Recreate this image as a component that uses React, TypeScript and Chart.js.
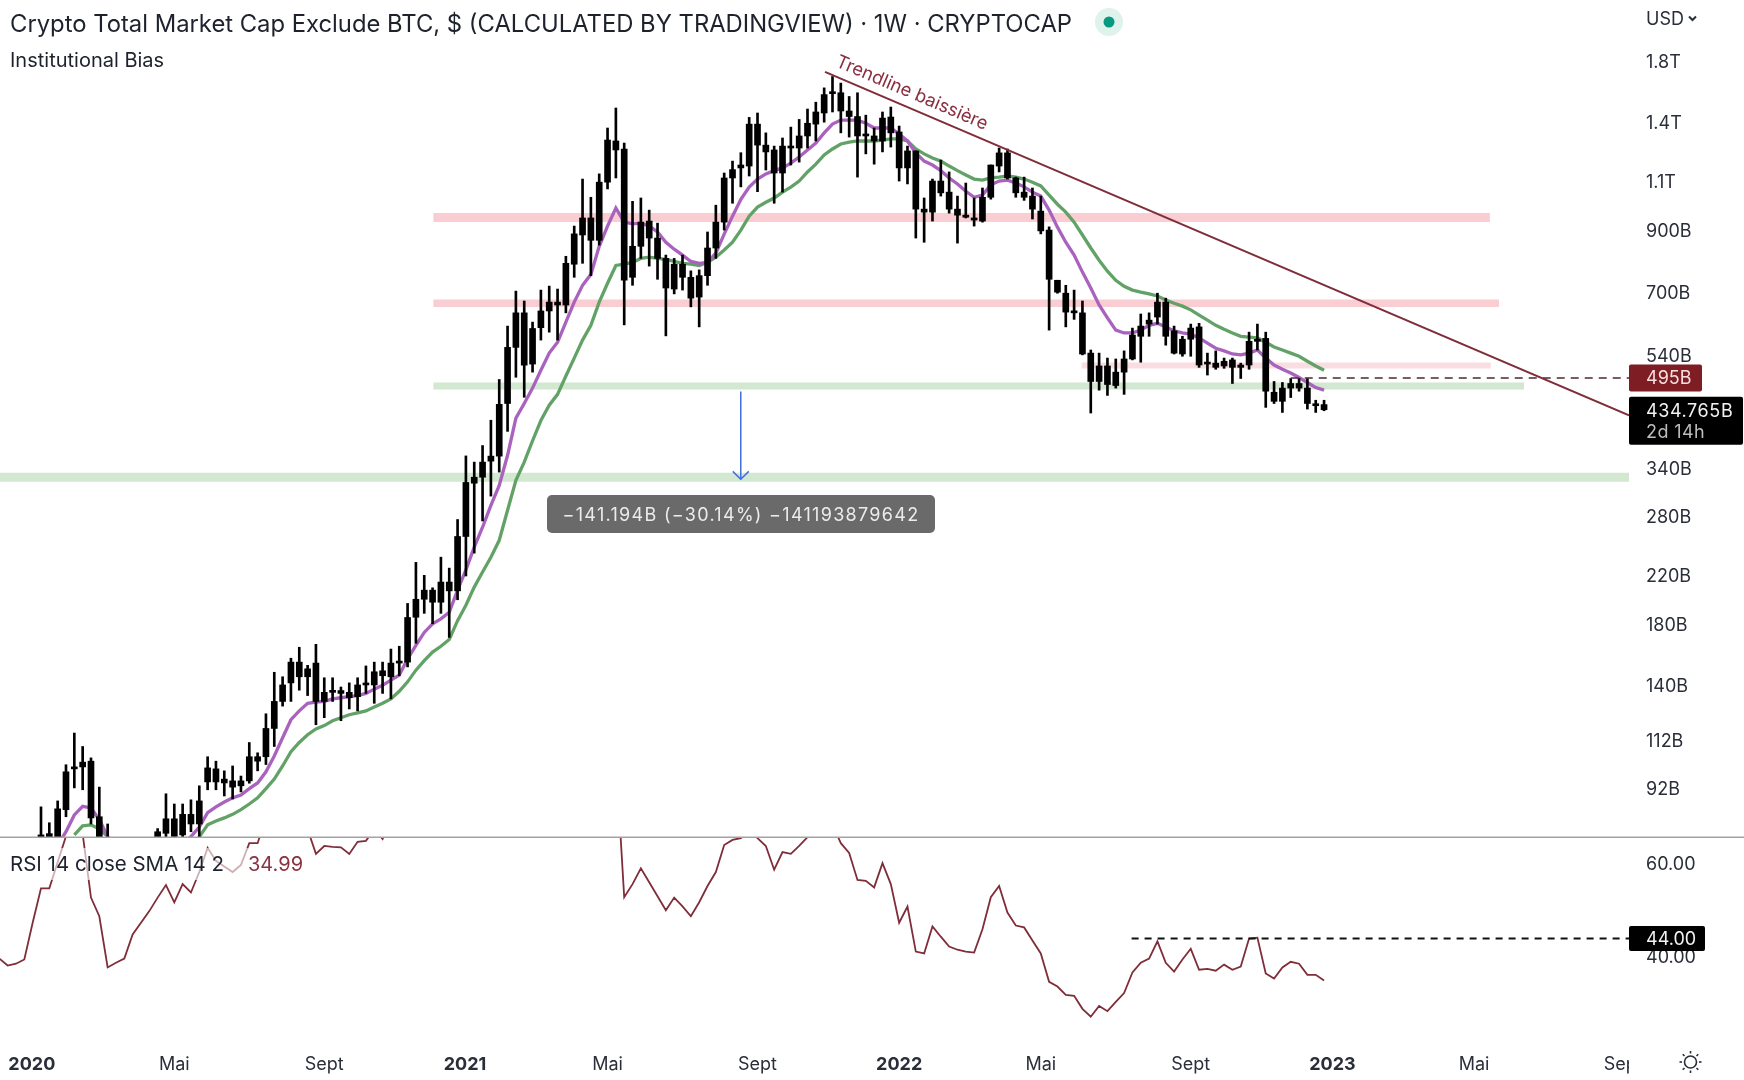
import { useEffect, useRef } from "react";
import { Chart, registerables } from "chart.js";

Chart.register(...registerables);

const FONT = "Inter, 'Noto Sans', sans-serif";
const TEXT = "#2a2e39";
const MAROON = "#7f2d38";

// x axis is counted in weeks, week 0 sits at the left edge of the picture
const weekTicks = [3.9, 21, 39, 55.9, 73, 91, 108, 125, 143, 160, 177, 194.9];
const weekLabels = ["2020", "Mai", "Sept", "2021", "Mai", "Sept", "2022", "Mai", "Sept", "2023", "Mai", "Sept"];
const yearLabels = ["2020", "2021", "2022", "2023"];

// price axis, billions
const priceTicks = [1800, 1400, 1100, 900, 700, 540, 340, 280, 220, 180, 140, 112, 92];
const priceLabels = ["1.8T", "1.4T", "1.1T", "900B", "700B", "540B", "340B", "280B", "220B", "180B", "140B", "112B", "92B"];
const rsiTicks = [60, 40];
const rsiLabels = ["60.00", "40.00"];

// weekly candles, all drawn black in the original. first candle is week 5
const firstCandleWeek = 5;
const wickHigh = [
  85.8, 80.4, 87.9, 101.9, 116, 109.8, 104.8, 93, 80, 74,
  68, 62, 66, 72, 78.5, 90.5, 86.8, 86.8, 88.3, 93.5,
  105.3, 103.4, 99.4, 101.4, 97.3, 111.6, 107, 125.5, 148.7, 146,
  157.5, 164.7, 153, 166.7, 145.4, 145.4, 140, 142.4, 145.4, 152.6,
  155, 155, 163.5, 165.4, 197, 233, 221, 210, 238, 227.6,
  277.6, 360, 351, 375.6, 416.5, 492, 612, 706, 678, 622,
  709, 720.6, 712, 814, 921, 1116, 1036, 1140, 1375, 1492,
  1293, 1019, 1033, 983, 932, 818, 807, 818, 767, 770,
  899, 1003, 1144, 1201, 1243, 1436, 1462, 1348, 1277, 1320,
  1380, 1424, 1486, 1528, 1620, 1697, 1652, 1564, 1588, 1449,
  1375, 1468, 1498, 1386, 1277, 1252, 1033, 1116, 1206, 1149,
  1041, 1098, 1033, 1076, 1182, 1267, 1262, 1125, 1125, 1076,
  1041, 918, 738, 723, 709, 678, 555, 548, 537, 535,
  553, 607, 643, 646, 700, 686, 612, 587, 617, 619,
  548, 553, 537, 537, 526, 597, 617, 597, 488, 486,
  494, 494, 494, 452, 452,
];
const bodyHigh = [
  76.5, 76.9, 85.1, 99, 101, 103, 103.4, 82.4, 75, 70,
  62, 55, 62, 68, 77.5, 81.7, 81.7, 83.2, 83.2, 87.9,
  100.6, 100.2, 96.1, 95.4, 95.4, 105.3, 105.3, 118.2, 132, 141.2,
  155, 155, 150.8, 154.4, 137, 138, 138, 137, 141.2, 142,
  149, 149.6, 154.4, 155.6, 186, 200.4, 208, 208, 215, 215,
  259, 323, 330, 351, 359.7, 444.5, 561, 646, 646, 606,
  651, 675, 675, 791, 892, 952, 952, 1102, 1309, 1304,
  1262, 848, 936, 940, 877, 807, 788, 788, 747, 752,
  842, 936, 1121, 1160, 1182, 1397, 1397, 1282, 1257, 1277,
  1277, 1331, 1402, 1468, 1576, 1594, 1588, 1474, 1441, 1336,
  1331, 1432, 1438, 1353, 1252, 1252, 987, 1107, 1107, 1058,
  987, 963, 952, 1036, 1182, 1242, 1242, 1121, 1058, 1041,
  979, 906, 738, 700, 651, 646, 548, 520, 520, 507,
  535, 590, 612, 627, 675, 675, 600, 580, 607, 610,
  526, 526, 530, 533, 522, 575, 580, 582, 467, 475,
  484, 484, 475, 444, 444,
];
const bodyLow = [
  72, 75.6, 73.4, 84.8, 100.2, 101, 82, 75, 69, 64,
  52, 50, 55, 60, 73.4, 77, 76, 76.5, 80, 80,
  95, 95, 94.6, 93, 93.5, 95.4, 103.4, 105.3, 118.2, 132,
  142.4, 146, 146, 132, 132, 137, 136.4, 134, 134.6, 141.2,
  141.2, 146.6, 146, 154.4, 155, 186.2, 200.4, 198, 198, 207.4,
  207.4, 259, 322, 330, 352.4, 359.7, 446, 561, 521.7, 524,
  608, 651, 667, 667, 788, 888, 869, 869, 1102, 1257,
  738, 747, 848, 877, 807, 715, 712, 747, 686, 689,
  752, 842, 936, 1121, 1168, 1177, 1282, 1247, 1144, 1144,
  1267, 1267, 1331, 1397, 1462, 1582, 1474, 1441, 1331, 1331,
  1304, 1304, 1348, 1168, 1168, 987, 975, 975, 1055, 987,
  963, 955, 944, 940, 1036, 1177, 1121, 1055, 1036, 987,
  903, 741, 703, 648, 646, 546, 488, 488, 482, 480,
  507, 535, 587, 617, 635, 587, 548, 546, 580, 522,
  524, 517, 520, 517, 517, 522, 575, 469, 450, 450,
  475, 475, 446, 442, 434.8,
];
const wickLow = [
  69, 73.4, 71.9, 82.4, 92.7, 92, 80, 72, 67.6, 60,
  48, 46, 52, 58, 72, 74.3, 74.3, 75, 77.5, 75.9,
  92, 92, 89.7, 88.6, 91.2, 94.5, 99.4, 102, 109.8, 129.5,
  132, 138.2, 135.2, 120, 123.5, 132, 122, 128, 127, 136.4,
  131, 136.4, 133.4, 146.6, 152, 167.4, 189.2, 181.3, 189.2, 171.5,
  200, 220.4, 242, 276, 305.5, 337, 398, 496.5, 457.5, 507,
  578, 597, 578, 646, 747, 791, 752, 852, 1072, 1121,
  615, 723, 807, 782, 741, 588, 698, 709, 662, 610,
  723, 807, 906, 1011, 1081, 1130, 1060, 1158, 1011, 1058,
  1182, 1196, 1267, 1304, 1408, 1468, 1348, 1325, 1125, 1237,
  1186, 1247, 1272, 1107, 1094, 877, 862, 940, 1041, 971,
  859, 952, 921, 936, 1028, 1149, 1116, 1036, 1023, 948,
  892, 602, 700, 610, 629, 544, 429, 471, 461, 475,
  463, 533, 528, 587, 617, 566, 546, 541, 541, 517,
  501, 513, 515, 484, 494, 513, 555, 439, 446, 430,
  457, 469, 436, 430, 433,
];

// moving averages, first point is the named week
const firstFastWeek = 7;
const fastAverage = [
  73.4, 77.5, 83, 86, 85.4, 81.4, 76, 72, 63.5, 58.4,
  58.4, 61, 65, 67.6, 70.5, 73.4, 76, 79, 83.8, 85.8,
  87.5, 89, 90, 92.4, 94.6, 99, 105.6, 113.8, 122.5, 127,
  131, 131.6, 132, 133.4, 134, 134.6, 135.2, 136.4, 138.8, 141,
  144, 147, 157, 166, 175, 181.3, 185, 190, 208, 226,
  248, 269, 294, 319, 361, 420, 446, 475, 511, 548,
  573, 622, 675, 723, 756, 848, 921, 991, 936, 929,
  932, 921, 899, 862, 838, 818, 797, 791, 794, 825,
  891, 959, 1027, 1080, 1116, 1140, 1155, 1168, 1191, 1221,
  1257, 1293, 1348, 1397, 1420, 1420, 1420, 1402, 1375, 1375,
  1375, 1342, 1304, 1242, 1201, 1182, 1155, 1121, 1094, 1062,
  1036, 1045, 1090, 1107, 1111, 1098, 1081, 1058, 1041, 983,
  917, 862, 818, 763, 715, 667, 633, 602, 595, 595,
  602, 614, 619, 610, 600, 595, 592, 583, 571, 559,
  553, 546, 544, 548, 555, 537, 522, 513, 505, 496,
  486, 476, 471,
];
const firstSlowWeek = 9;
const slowAverage = [
  76.5, 79.4, 79.7, 78.4, 76, 72, 67.6, 63.5, 61, 59.7,
  59.7, 61, 63.5, 67.6, 72, 75.9, 79.7, 81, 82, 83.2,
  84.8, 86.8, 89, 92.4, 96.1, 101.4, 107.5, 111.6, 115.2, 118,
  119.6, 122, 123.5, 125, 126, 127, 129, 131, 133.4, 137.6,
  143, 150, 156, 161.5, 165.4, 170, 183.6, 195.6, 210.6, 224,
  238, 255, 288.4, 326, 351, 383, 416, 443, 463, 499,
  537, 578, 614, 675, 729, 784, 788, 794, 807, 811,
  807, 804, 797, 791, 788, 784, 794, 811, 835, 862,
  906, 959, 995, 1015, 1033, 1058, 1080, 1107, 1149, 1186,
  1232, 1262, 1288, 1298, 1304, 1304, 1304, 1309, 1315, 1315,
  1304, 1262, 1237, 1216, 1201, 1177, 1155, 1135, 1116, 1111,
  1121, 1125, 1130, 1125, 1116, 1102, 1085, 1045, 1007, 975,
  936, 888, 842, 801, 766, 738, 720, 709, 703, 698,
  692, 681, 672, 664, 654, 640, 627, 614, 604, 595,
  587, 585, 583, 573, 562, 555, 548, 541, 530, 520,
  511,
];

// RSI per week from week 0; stretches above the pane top are estimates
const rsiValues = [
  39.7, 38.2, 38.6, 39.5, 47.4, 54.8, 54.8, 60.4, 66, 72,
  66.5, 52.8, 48.8, 37.8, 38.8, 39.7, 44.9, 47.4, 49.9, 52.8,
  55.5, 51.8, 55.7, 53.9, 58.3, 63.5, 60.7, 59.5, 58.3, 59.8,
  64.5, 64.5, 70, 72, 74, 72, 70, 67.5, 62.2, 63.9,
  63.7, 63.6, 62.2, 64.8, 65, 67.5, 65.4, 70, 72, 74,
  76, 78, 80, 82, 82, 80, 84, 86, 85, 84,
  83, 85, 86, 85, 82, 80, 78, 78, 76, 74,
  76, 78, 80, 82, 83, 52.9, 55.7, 59.1, 56.1, 53.1,
  50.1, 52.8, 50.9, 48.8, 51.8, 55.3, 58.3, 64.1, 65.2, 65.6,
  67, 65.6, 63.9, 58.8, 62.6, 62.2, 63.9, 65.8, 68, 69,
  68.5, 64.5, 62.4, 56.6, 56.4, 55, 60.2, 55.7, 47.4, 50.9,
  41.2, 40.8, 46.6, 44.4, 42.3, 41.6, 41.2, 41, 46, 52.9,
  55.3, 49.6, 46.8, 46.4, 43.6, 40.8, 34.7, 33.7, 31.9, 31.7,
  28.9, 27.2, 29.5, 28.4, 30.4, 32.3, 36.7, 38.8, 39.7, 43.4,
  38.8, 36.9, 39.5, 41.8, 37.3, 37.5, 37.1, 38.4, 37.3, 38,
  44, 44.2, 36.5, 35.4, 37.8, 39, 38.6, 36.2, 36.2, 34.99,
];

// drawn levels: [from week, to week, price in billions]
const WEEK_MIN = 0.08;
const WEEK_MAX = 195.6;
const resistanceHigh = [52.1, 178.9, 954];
const resistanceMid = [52.1, 180, 672];
const resistanceLow = [129.9, 179, 521];
const supportHigh = [52.1, 183, 479];
const supportLow = [WEEK_MIN, WEEK_MAX, 330];
const trendWeeks = [99.1, WEEK_MAX];
const trendValues = [1730, 425];
const alertWeek = 155;
const alertValue = 495;
const rsiAlertWeek = 135.9;
const rsiAlertValue = 44;
const lastPrice = 434.765;
const arrowWeek = 88.99;
const arrowFrom = 468.4;
const arrowTo = 327.2;
const arrowHeadValue = 338;
const arrowHeadWeeks = 0.96;

const week = (first: number, i: number) => first + i;

const band = (level: number[], color: string, width: number) => ({
  type: "line" as const,
  data: [
    { x: level[0], y: level[2] },
    { x: level[1], y: level[2] },
  ],
  borderColor: color,
  borderWidth: width,
  borderCapStyle: "butt" as const,
  pointRadius: 0,
  yAxisID: "y",
  order: 10,
});

const roundBox = (c: CanvasRenderingContext2D, x: number, y: number, w: number, h: number, r: number, fill: string) => {
  c.fillStyle = fill;
  c.beginPath();
  c.roundRect(x, y, w, h, r);
  c.fill();
};

const put = (c: CanvasRenderingContext2D, text: string, x: number, y: number, font: string, color: string, align: CanvasTextAlign = "left", spacing = "0px") => {
  c.font = font + " " + FONT;
  c.fillStyle = color;
  c.textAlign = align;
  c.textBaseline = "middle";
  (c as any).letterSpacing = spacing;
  c.fillText(text, x, y);
  (c as any).letterSpacing = "0px";
};

// everything TradingView paints over the panes: headers, price tags, measure box
const overlays = {
  id: "overlays",
  afterDatasetsDraw(chart: Chart) {
    const c = chart.ctx;
    const sy = chart.scales.y;
    const sx = chart.scales.x;
    const sr = chart.scales.yRsi;
    c.save();

    // pane divider
    c.fillStyle = "#a3a3a3";
    c.fillRect(0, sy.bottom - 0.5, chart.width, 1.5);

    put(c, "Crypto Total Market Cap Exclude BTC, $ (CALCULATED BY TRADINGVIEW) · 1W · CRYPTOCAP", 10, 25, "23.8px", "#1e222d");
    c.fillStyle = "#dff2ec";
    c.beginPath();
    c.arc(1109, 22, 14, 0, Math.PI * 2);
    c.fill();
    c.fillStyle = "#089981";
    c.beginPath();
    c.arc(1109, 22, 5.5, 0, Math.PI * 2);
    c.fill();
    put(c, "Institutional Bias", 10, 61, "20px", "#1e222d");

    put(c, "USD", 1646, 20, "18px", TEXT);
    c.strokeStyle = TEXT;
    c.lineWidth = 2;
    c.beginPath();
    c.moveTo(1689, 16.5);
    c.lineTo(1692.5, 20);
    c.lineTo(1696, 16.5);
    c.stroke();

    // trendline caption follows the line
    const tx = sx.getPixelForValue(trendWeeks[0]);
    const ty = sy.getPixelForValue(trendValues[0]);
    const angle = Math.atan2(sy.getPixelForValue(trendValues[1]) - ty, sx.getPixelForValue(trendWeeks[1]) - tx);
    c.save();
    c.translate(912, 93);
    c.rotate(angle);
    put(c, "Trendline baissière", 0, 0, "18.3px", "#8b3040", "center");
    c.restore();

    // RSI header with its soft backdrop
    c.fillStyle = "rgba(255,255,255,0.62)";
    c.fillRect(0, 848, 248, 32);
    put(c, "RSI 14 close SMA 14 2", 10, 865, "20.5px", "#1e222d");
    put(c, "34.99", 248, 865, "20px", "#8a3242");

    // measure box
    roundBox(c, 547, 495, 388, 38, 5, "#6a6a6a");
    put(c, "−141.194B (−30.14%) −141193879642", 741, 516, "18px", "#ececec", "center", "1.3px");

    // axis tags
    const axisLeft = sy.left;
    const alertY = sy.getPixelForValue(alertValue);
    roundBox(c, axisLeft, alertY - 13.5, 73, 27, 2, "#7f1d24");
    put(c, "495B", 1646, alertY + 1, "18px", "#f7dfe0");

    const lastY = sy.getPixelForValue(lastPrice);
    roundBox(c, axisLeft, lastY - 13, 114, 48, 2, "#000000");
    put(c, "434.765B", 1646, lastY + 2, "18px", "#f2f2f2", "left", "0.6px");
    put(c, "2d 14h", 1646, lastY + 23, "18px", "#bdbdbd", "left", "0.4px");

    const rsiY = sr.getPixelForValue(rsiAlertValue);
    roundBox(c, axisLeft, rsiY - 12.5, 76, 25, 2, "#000000");
    put(c, "44.00", 1646, rsiY + 1, "18px", "#f2f2f2");

    // the time axis stops at the price axis, the settings icon sits in the corner
    c.fillStyle = "#ffffff";
    c.fillRect(sy.left, sx.top, chart.width - sy.left, chart.height - sx.top);
    c.strokeStyle = TEXT;
    c.lineWidth = 1.6;
    c.beginPath();
    c.arc(1690.5, 1062, 6, 0, Math.PI * 2);
    c.stroke();
    for (let i = 0; i < 8; i++) {
      const a = (i * Math.PI) / 4;
      c.beginPath();
      c.moveTo(1690.5 + Math.cos(a) * 8.5, 1062 + Math.sin(a) * 8.5);
      c.lineTo(1690.5 + Math.cos(a) * 11, 1062 + Math.sin(a) * 11);
      c.stroke();
    }
    c.restore();
  },
};

export default function App() {
  const canvasRef = useRef<HTMLCanvasElement>(null);

  useEffect(() => {
    document.body.style.margin = "0";
    if (!canvasRef.current) return;

    const chart = new Chart(canvasRef.current, {
      type: "bar",
      data: {
        datasets: [
          {
            type: "bar",
            data: bodyHigh.map((v, i) => ({ x: week(firstCandleWeek, i), y: [bodyLow[i], v] })),
            backgroundColor: "#000000",
            barThickness: 6,
            minBarLength: 2,
            grouped: false,
            yAxisID: "y",
            order: 1,
          },
          {
            type: "bar",
            data: wickHigh.map((v, i) => ({ x: week(firstCandleWeek, i), y: [wickLow[i], v] })),
            backgroundColor: "#000000",
            barThickness: 2,
            grouped: false,
            yAxisID: "y",
            order: 2,
          },
          {
            type: "line",
            data: fastAverage.map((v, i) => ({ x: week(firstFastWeek, i), y: v })),
            borderColor: "#a962bd",
            borderWidth: 3.3,
            pointRadius: 0,
            yAxisID: "y",
            order: 5,
          },
          {
            type: "line",
            data: slowAverage.map((v, i) => ({ x: week(firstSlowWeek, i), y: v })),
            borderColor: "#62a267",
            borderWidth: 3.3,
            pointRadius: 0,
            yAxisID: "y",
            order: 6,
          },
          band(resistanceHigh, "#f9cdd2", 9),
          band(resistanceMid, "#f9cdd2", 7.5),
          band(resistanceLow, "#fadde1", 6),
          band(supportHigh, "#d2e8d0", 7),
          band(supportLow, "#d2e8d0", 9),
          {
            type: "line",
            data: trendWeeks.map((w, i) => ({ x: w, y: trendValues[i] })),
            borderColor: MAROON,
            borderWidth: 2,
            pointRadius: 0,
            yAxisID: "y",
            order: 0,
          },
          {
            type: "line",
            data: [
              { x: alertWeek, y: alertValue },
              { x: WEEK_MAX, y: alertValue },
            ],
            borderColor: "#4b2a2e",
            borderWidth: 1.5,
            borderDash: [8, 6],
            pointRadius: 0,
            yAxisID: "y",
            order: 0,
          },
          {
            type: "line",
            data: [
              { x: arrowWeek, y: arrowFrom },
              { x: arrowWeek, y: arrowTo },
            ],
            borderColor: "#3f6fe0",
            borderWidth: 1.5,
            pointRadius: 0,
            yAxisID: "y",
            order: 0,
          },
          {
            type: "line",
            data: [
              { x: arrowWeek - arrowHeadWeeks, y: arrowHeadValue },
              { x: arrowWeek, y: arrowTo },
              { x: arrowWeek + arrowHeadWeeks, y: arrowHeadValue },
            ],
            borderColor: "#3f6fe0",
            borderWidth: 1.5,
            pointRadius: 0,
            yAxisID: "y",
            order: 0,
          },
          {
            type: "line",
            data: rsiValues.map((v, i) => ({ x: i, y: v })),
            borderColor: MAROON,
            borderWidth: 1.8,
            pointRadius: 0,
            yAxisID: "yRsi",
            order: 1,
          },
          {
            type: "line",
            data: [
              { x: rsiAlertWeek, y: rsiAlertValue },
              { x: WEEK_MAX, y: rsiAlertValue },
            ],
            borderColor: "#111111",
            borderWidth: 2,
            borderDash: [7, 6],
            pointRadius: 0,
            yAxisID: "yRsi",
            order: 0,
          },
        ],
      } as any,
      options: {
        animation: false,
        responsive: false,
        layout: { padding: 0 },
        plugins: {
          legend: { display: false },
          tooltip: { enabled: false },
        },
        scales: {
          x: {
            type: "linear",
            position: "bottom",
            min: WEEK_MIN,
            max: WEEK_MAX,
            offset: false,
            grid: { display: false },
            border: { display: false },
            afterBuildTicks: (s: any) => {
              s.ticks = weekTicks.map((value) => ({ value }));
            },
            afterFit: (s: any) => {
              s.height = 40;
              s.paddingLeft = s.paddingRight = 0;
            },
            ticks: {
              autoSkip: false,
              maxRotation: 0,
              padding: 5.5,
              color: TEXT,
              callback: (_v: any, i: number) => weekLabels[i],
              font: (ctx: any) => ({
                family: FONT,
                size: 18,
                weight: yearLabels.includes(weekLabels[ctx.index]) ? "bold" : "normal",
              }),
            },
          },
          y: {
            type: "logarithmic",
            position: "right",
            stack: "panes",
            stackWeight: 837,
            min: 75.85,
            max: 2320,
            grid: { display: false, drawTicks: false },
            border: { display: false },
            afterBuildTicks: (s: any) => {
              s.ticks = priceTicks.map((value) => ({ value }));
            },
            afterFit: (s: any) => {
              s.width = 115;
              s.paddingTop = s.paddingBottom = 0;
            },
            ticks: {
              autoSkip: false,
              padding: 17,
              color: TEXT,
              font: { family: FONT, size: 18 },
              callback: (_v: any, i: number) => priceLabels[i],
            },
          },
          yRsi: {
            type: "linear",
            position: "right",
            stack: "panes",
            stackWeight: 203,
            min: 22.2,
            max: 65.83,
            grid: { display: false, drawTicks: false },
            border: { display: false },
            afterBuildTicks: (s: any) => {
              s.ticks = rsiTicks.map((value) => ({ value }));
            },
            afterFit: (s: any) => {
              s.width = 115;
              s.paddingTop = s.paddingBottom = 0;
            },
            ticks: {
              autoSkip: false,
              padding: 17,
              color: TEXT,
              font: { family: FONT, size: 18 },
              callback: (_v: any, i: number) => rsiLabels[i],
            },
          },
        },
      },
      plugins: [overlays],
    } as any);

    return () => chart.destroy();
  }, []);

  return <canvas ref={canvasRef} width={1744} height={1080} style={{ display: "block" }} />;
}
